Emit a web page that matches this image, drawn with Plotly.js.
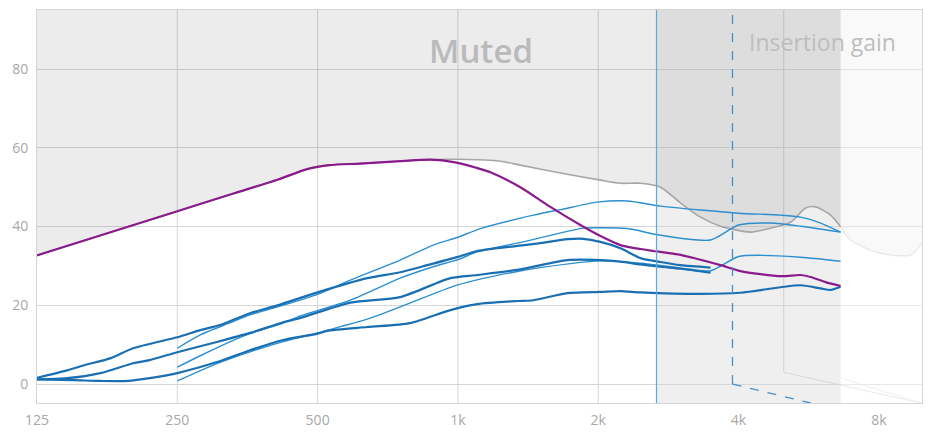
<!DOCTYPE html>
<html><head><meta charset="utf-8">
<script src="https://cdn.plot.ly/plotly-3.0.1.min.js"></script>
<style>html,body{margin:0;padding:0;background:#fff}#chart{width:931px;height:435px}</style>
</head><body><div id="chart"></div>
<script>
// ---- axis ticks ----
const freqTicks = [125, 250, 500, 1000, 2000, 4000, 8000];
const freqTickLabels = ['125', '250', '500', '1k', '2k', '4k', '8k'];
const levelTicks = [0, 20, 40, 60, 80];
const gridFreqs = [250, 500, 1000, 2000];

// ---- reference markers (Hz) ----
const cutoffFreq = 2667;     // solid blue vertical
const dashedFreq = 3882;     // dashed vertical
const dashedFootFreq = 5712;
const backEdgeFreq = 6625;   // end of back plane
const depthGridFreq = 5000;
const depthGridFootFreq = 9838;

// ---- target (purple) ----
const targetFreq = [125, 250, 330, 410, 475, 530, 617, 752, 872, 987, 1090, 1174, 1361, 1579, 1831, 2022, 2232, 2464, 2628, 3003, 3660, 4039, 4924, 5435, 5711, 6150, 6625];
const targetLevel = [32.7, 43.9, 48.4, 51.9, 54.6, 55.6, 56.0, 56.6, 57.0, 56.3, 55.0, 53.8, 50.0, 45.0, 40.4, 37.6, 35.3, 34.3, 33.8, 32.8, 30.2, 28.7, 27.4, 27.7, 27.2, 25.9, 24.9];

// ---- muted boundary (grey) ----
const mutedFreq = [125, 250, 330, 410, 475, 530, 617, 752, 872, 1009, 1233, 1361, 1659, 2022, 2232, 2464, 2720, 3003, 3314, 3660, 4245, 4686, 5173, 5571, 5854, 6303, 6625];
const mutedLevel = [32.7, 43.9, 48.4, 51.9, 54.6, 55.6, 56.0, 56.6, 57.0, 57.1, 56.6, 55.6, 53.6, 51.8, 51.0, 51.0, 50.0, 46.0, 42.4, 40.1, 38.6, 39.6, 41.1, 44.7, 45.0, 42.9, 39.9];

// ---- side wall curve ----
const wallFreq = [6625, 6960, 7682, 8481, 9362, 9900];
const wallLevel = [39.9, 36.6, 34.0, 32.8, 32.8, 35.8];

// ---- thick blue curves ----
const aFreq = [125, 145, 158, 180, 201, 250, 280, 309, 358, 410, 500, 639, 752, 860, 1000, 1100, 1341, 1503, 1717, 1859, 2022, 2232, 2464, 2720, 3003, 3483];
const aLevel = [1.6, 3.5, 4.8, 6.6, 9.1, 11.9, 13.7, 15.0, 18.0, 20.0, 23.3, 26.9, 28.4, 30.2, 32.3, 33.8, 35.1, 35.8, 36.8, 36.9, 36.1, 34.5, 32.0, 31.0, 30.2, 29.6];

const dFreq = [125, 145, 171, 201, 218, 250, 304, 358, 422, 459, 588, 752, 963, 1100, 1341, 1717, 2022, 2232, 2464, 2720, 3003, 3483];
const dLevel = [1.2, 1.5, 2.8, 5.3, 6.1, 8.1, 10.7, 13.0, 15.7, 16.8, 20.7, 22.1, 26.9, 27.7, 29.0, 31.5, 31.5, 31.1, 30.4, 29.8, 29.3, 28.3];

const fFreq = [125, 150, 171, 196, 218, 250, 304, 358, 422, 500, 524, 639, 790, 963, 1100, 1341, 1452, 1717, 2022, 2232, 2464, 3314, 4039, 4924, 5435, 6000, 6303, 6625];
const fLevel = [1.2, 1.0, 0.8, 0.8, 1.5, 2.8, 5.6, 8.6, 11.2, 12.8, 13.5, 14.5, 15.5, 18.8, 20.3, 21.1, 21.3, 23.1, 23.4, 23.6, 23.3, 22.9, 23.2, 24.6, 25.1, 24.3, 23.9, 24.7];

// ---- thin blue curves ----
const bFreq = [250, 280, 325, 358, 410, 500, 588, 752, 885, 1000, 1117, 1452, 1659, 1991, 2310, 2720, 3314, 4000, 4924, 5435, 6000, 6625];
const bLevel = [9.1, 12.5, 15.6, 17.6, 19.6, 22.8, 26.4, 31.5, 35.3, 37.3, 39.5, 42.9, 44.3, 46.2, 46.5, 45.2, 44.2, 43.4, 42.9, 42.4, 40.9, 38.6];

const cFreq = [250, 280, 325, 358, 422, 459, 588, 752, 885, 1000, 1100, 1341, 1859, 2022, 2310, 2720, 3483, 4000, 4686, 5435, 6625];
const cLevel = [4.3, 7.2, 10.8, 12.8, 15.5, 17.3, 21.3, 26.9, 29.8, 31.6, 33.6, 35.8, 39.6, 39.7, 39.5, 37.8, 36.6, 40.4, 40.9, 40.1, 38.6];

const eFreq = [250, 304, 358, 422, 500, 560, 639, 752, 1000, 1341, 1743, 2022, 2464, 3003, 3483, 4000, 4500, 5435, 6625];
const eLevel = [0.8, 5.2, 8.2, 10.8, 13.0, 14.6, 16.5, 19.6, 25.2, 28.6, 30.6, 31.3, 30.7, 29.5, 28.8, 32.4, 32.7, 32.2, 31.2];

const Y_MIN = -4.8, Y_MAX = 95;
const X_MIN = 125, X_MAX = 9900;

const THICK = '#1a6fb3', THIN = '#2b8fd0';

function curve(x, y, color, width) {
  return { type: 'scatter', mode: 'lines', x: x, y: y, hoverinfo: 'skip',
    line: { color: color, width: width, shape: 'spline', smoothing: 0.7 } };
}
function ceiling(x) {
  return { type: 'scatter', mode: 'lines', x: x, y: x.map(() => Y_MAX), hoverinfo: 'skip',
    line: { width: 0 } };
}
function filledCurve(x, y, lineColor, width, fillColor) {
  const t = curve(x, y, lineColor, width);
  t.fill = 'tonexty';
  t.fillcolor = fillColor;
  return t;
}

const traces = [
  ceiling(mutedFreq),
  filledCurve(mutedFreq, mutedLevel, '#a6a6a6', 1.6, 'rgba(0,0,0,0.075)'),
  ceiling(wallFreq),
  filledCurve(wallFreq, wallLevel, '#d8d8d8', 1.5, 'rgba(0,0,0,0.04)'),
  curve(bFreq, bLevel, THIN, 1.4),
  curve(cFreq, cLevel, THIN, 1.4),
  curve(eFreq, eLevel, THIN, 1.4),
  curve(aFreq, aLevel, THICK, 2.2),
  curve(dFreq, dLevel, THICK, 2.2),
  curve(fFreq, fLevel, THICK, 2.2),
  curve(targetFreq, targetLevel, '#8a1b8c', 2.2)
];

const shapes = [
  { type: 'rect', xref: 'x', yref: 'y', x0: cutoffFreq, x1: backEdgeFreq, y0: Y_MIN, y1: Y_MAX,
    fillcolor: '#efefef', line: { width: 0 }, layer: 'below' }
];
gridFreqs.forEach(f => shapes.push({ type: 'line', xref: 'x', yref: 'y', x0: f, x1: f, y0: Y_MIN, y1: Y_MAX,
  line: { color: '#d6d6d6', width: 1 }, layer: 'below' }));
shapes.push({ type: 'line', xref: 'x', yref: 'y', x0: depthGridFreq, x1: depthGridFreq, y0: Y_MAX, y1: 3,
  line: { color: '#d0d0d0', width: 1 }, layer: 'below' });
shapes.push({ type: 'line', xref: 'x', yref: 'y', x0: depthGridFreq, x1: depthGridFootFreq, y0: 3, y1: Y_MIN,
  line: { color: '#d6d6d6', width: 1 }, layer: 'below' });
shapes.push({ type: 'line', xref: 'x', yref: 'y', x0: backEdgeFreq, x1: X_MAX, y0: 1.5, y1: Y_MIN,
  line: { color: '#e2e2e2', width: 1 }, layer: 'below' });
// lighten the side wall panel (its grid is fainter)
shapes.push({ type: 'rect', xref: 'x', yref: 'y', x0: backEdgeFreq, x1: X_MAX, y0: Y_MIN, y1: Y_MAX,
  fillcolor: 'rgba(255,255,255,0.45)', line: { width: 0 }, layer: 'above' });
shapes.push({ type: 'line', xref: 'x', yref: 'y', x0: cutoffFreq, x1: cutoffFreq, y0: Y_MIN, y1: Y_MAX,
  line: { color: '#58abe0', width: 1.2 }, layer: 'above' });
shapes.push({ type: 'line', xref: 'x', yref: 'y', x0: dashedFreq, x1: dashedFreq, y0: 0, y1: Y_MAX,
  line: { color: '#4a8fc2', width: 1.3, dash: 'dash' }, layer: 'above' });
shapes.push({ type: 'line', xref: 'x', yref: 'y', x0: dashedFreq, x1: dashedFootFreq, y0: 0, y1: Y_MIN,
  line: { color: '#4a8fc2', width: 1.3, dash: 'dash' }, layer: 'above' });

const tickFont = { family: 'Open Sans, sans-serif', size: 14, color: '#a8a8a8' };

const layout = {
  width: 931, height: 435,
  margin: { l: 37, r: 9, t: 10, b: 32, pad: 0 },
  paper_bgcolor: '#ffffff', plot_bgcolor: '#ffffff',
  showlegend: false,
  xaxis: {
    type: 'log', range: [Math.log10(X_MIN), Math.log10(X_MAX)],
    tickvals: freqTicks, ticktext: freqTickLabels, tickfont: tickFont,
    showgrid: false, zeroline: false, ticks: '',
    showline: true, mirror: true, linecolor: '#d4d4d4', linewidth: 1,
    ticklabelstandoff: 4
  },
  yaxis: {
    range: [Y_MIN, Y_MAX], tickvals: levelTicks, tickfont: tickFont,
    showgrid: true, gridcolor: '#d6d6d6', gridwidth: 1, zeroline: false, ticks: '',
    showline: true, mirror: true, linecolor: '#d4d4d4', linewidth: 1,
    ticklabelstandoff: 5
  },
  shapes: shapes,
  annotations: [
    { xref: 'x', yref: 'y', x: Math.log10(1123), y: 84.8, text: 'Muted', showarrow: false,
      font: { family: 'Open Sans, sans-serif', size: 33, color: '#bababa', weight: 600 } },
    { xref: 'x', yref: 'y', x: Math.log10(6060), y: 86.9, text: 'Insertion gain', showarrow: false,
      font: { family: 'Open Sans, sans-serif', size: 23, color: '#bdbdbd' } }
  ]
};

Plotly.newPlot('chart', traces, layout, { staticPlot: true, displayModeBar: false });
</script>
</body></html>
